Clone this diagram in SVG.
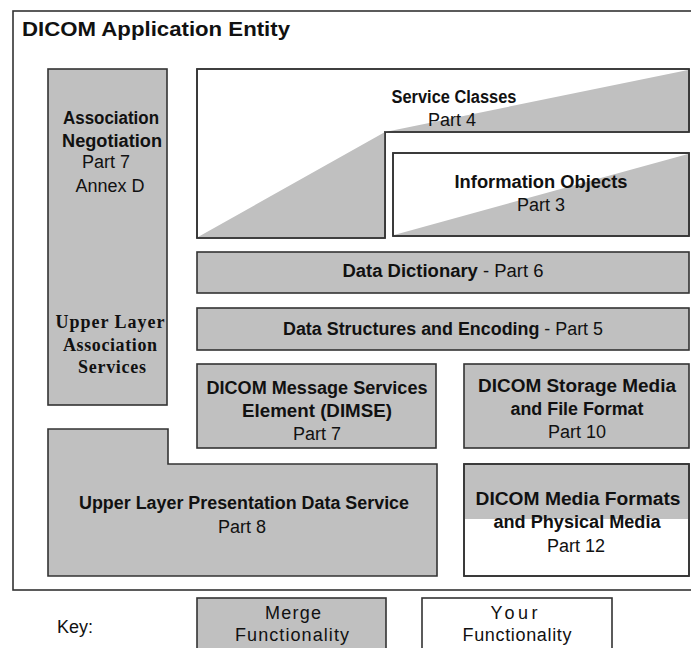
<svg xmlns="http://www.w3.org/2000/svg" width="691" height="648" viewBox="0 0 691 648">
<style>
.box{fill:#c0c0c0;stroke:#333;stroke-width:1.6}
.wbox{fill:#fff;stroke:#333;stroke-width:1.6}
.shade{fill:#c0c0c0;stroke:none}
.line{fill:none;stroke:#333;stroke-width:1.6}
text{font-family:"Liberation Sans",Arial,sans-serif;fill:#111;text-anchor:middle}
.b{font-weight:bold;font-size:18px}
.r{font-size:18px}
.s{font-family:"Liberation Serif","Times New Roman",serif;font-weight:bold;font-size:18px}
.k{font-size:18px}
</style>
<rect width="691" height="648" fill="#fff"/>
<g id="frame">
<rect x="13" y="11" width="690" height="579" fill="#fff" stroke="#333" stroke-width="1.6"/>
<text x="156" y="36" textLength="268" lengthAdjust="spacingAndGlyphs" style="font-weight:bold;font-size:20px">DICOM Application Entity</text>
</g>
<g id="association">
<rect class="box" x="48" y="69" width="119" height="336"/>
<text class="b" x="111" y="124" textLength="96" lengthAdjust="spacingAndGlyphs">Association</text>
<text class="b" x="112" y="147" textLength="100" lengthAdjust="spacingAndGlyphs">Negotiation</text>
<text class="r" x="106" y="168">Part 7</text>
<text class="r" x="110" y="192">Annex D</text>
<text class="s" x="110" y="328" textLength="109">Upper Layer</text>
<text class="s" x="110" y="351" textLength="94">Association</text>
<text class="s" x="112" y="373" textLength="68">Services</text>
</g>
<g id="service-classes">
<polygon class="wbox" points="197,69 689,69 689,132 385,132 385,238 197,238"/>
<polygon class="shade" points="198,237 385,132 688,70 688,131 385,131 384,237"/>
<polygon class="line" points="197,69 689,69 689,132 385,132 385,238 197,238"/>
<text class="b" x="454" y="103" textLength="125" lengthAdjust="spacingAndGlyphs">Service Classes</text>
<text class="r" x="452" y="126">Part 4</text>
</g>
<g id="information-objects">
<rect class="wbox" x="393" y="153" width="296" height="83"/>
<polygon class="shade" points="394,235 688,154 688,235"/>
<rect class="line" x="393" y="153" width="296" height="83"/>
<text class="b" x="541" y="188" textLength="173" lengthAdjust="spacingAndGlyphs">Information Objects</text>
<text class="r" x="541" y="211">Part 3</text>
</g>
<g id="data-dictionary">
<rect class="box" x="197" y="252" width="492" height="41"/>
<text x="443" y="277" textLength="201" lengthAdjust="spacingAndGlyphs"><tspan class="b">Data Dictionary</tspan><tspan class="r"> - Part 6</tspan></text>
</g>
<g id="data-structures">
<rect class="box" x="197" y="308" width="492" height="42"/>
<text x="443" y="335" textLength="320" lengthAdjust="spacingAndGlyphs"><tspan class="b">Data Structures and Encoding</tspan><tspan class="r"> - Part 5</tspan></text>
</g>
<g id="dimse">
<rect class="box" x="197" y="364" width="239" height="84"/>
<text class="b" x="317" y="394" textLength="221" lengthAdjust="spacingAndGlyphs">DICOM Message Services</text>
<text class="b" x="317" y="417" textLength="150" lengthAdjust="spacingAndGlyphs">Element (DIMSE)</text>
<text class="r" x="317" y="440">Part 7</text>
</g>
<g id="storage-media">
<rect class="box" x="464" y="364" width="225" height="84"/>
<text class="b" x="577" y="392" textLength="198" lengthAdjust="spacingAndGlyphs">DICOM Storage Media</text>
<text class="b" x="577" y="415" textLength="133" lengthAdjust="spacingAndGlyphs">and File Format</text>
<text class="r" x="577" y="438">Part 10</text>
</g>
<g id="presentation">
<polygon class="box" points="48,429 168,429 168,464 437,464 437,576 48,576"/>
<text class="b" x="244" y="509" textLength="330" lengthAdjust="spacingAndGlyphs">Upper Layer Presentation Data Service</text>
<text class="r" x="242" y="533">Part 8</text>
</g>
<g id="media-formats">
<rect class="wbox" x="464" y="464" width="225" height="112"/>
<rect class="shade" x="465" y="465" width="223" height="54"/>
<rect class="line" x="464" y="464" width="225" height="112"/>
<text class="b" x="578" y="505" textLength="205" lengthAdjust="spacingAndGlyphs">DICOM Media Formats</text>
<text class="b" x="577" y="528" textLength="167" lengthAdjust="spacingAndGlyphs">and Physical Media</text>
<text class="r" x="576" y="552">Part 12</text>
</g>
<g id="key">
<text class="k" x="75" y="633">Key:</text>
<rect class="box" x="197" y="598" width="189" height="60"/>
<text class="k" x="293" y="619" textLength="56">Merge</text>
<text class="k" x="292" y="641" textLength="114">Functionality</text>
<rect class="wbox" x="422" y="598" width="190" height="60"/>
<text class="k" x="514" y="619" textLength="47">Your</text>
<text class="k" x="517" y="641" textLength="109">Functionality</text>
</g>
<g id="connectors"></g>
</svg>
